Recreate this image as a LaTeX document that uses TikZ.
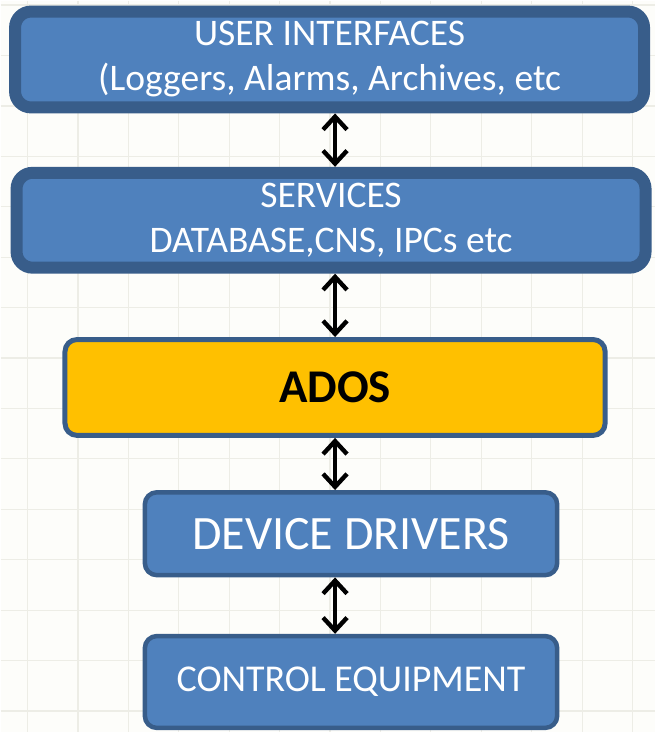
\documentclass[tikz,border=0pt]{standalone}
\usepackage{fontspec}
\setmainfont{Carlito}
\usetikzlibrary{arrows.meta, positioning}
\definecolor{boxblue}{HTML}{4F81BD}
\definecolor{edgeblue}{HTML}{385D8A}
\definecolor{adosgold}{HTML}{FFC000}
\definecolor{paper}{HTML}{FDFDFA}
\definecolor{gridline}{HTML}{EDEDE6}
\tikzset{x=0.5pt, y=-0.5pt, % one unit is one pixel of the reference
layer/.style={ % Sets the properties for each blue box
draw=edgeblue, fill=boxblue,
text=white, align=center, inner sep=0pt},
wide/.style={layer, line width=6pt, rounded corners=8pt,
minimum width=315pt, minimum height=48pt, font=\fontsize{18.8}{22.5}\selectfont},
narrow/.style={layer, line width=2.25pt, rounded corners=6pt,
minimum width=206.5pt},
updown/.style={ % black double arrows between the layers
{Straight Barb[length=6.5pt, width=12pt, line width=2.2pt]}-{Straight Barb[length=6.5pt, width=12pt, line width=2.2pt]},
line width=2.2pt, black}}

\begin{document}
\begin{tikzpicture}
    
    \fill[paper] (0,0) rectangle (655,733);
    \foreach \x in {27,77.5,...,655} \draw[gridline, line width=0.6pt] (\x,0) -- (\x,733);
    \foreach \y in {4.5,55,...,733} \draw[gridline, line width=0.6pt] (0,\y) -- (655,\y);
    \useasboundingbox (0,0) rectangle (655,733);
    
    \node[wide] (ui) at (329.5,59) {USER INTERFACES\\(Loggers, Alarms, Archives, etc};
    \node[wide, minimum height=47.5pt] (svc) at (331,220) {SERVICES\\DATABASE,CNS, IPCs etc};
    \node[layer, fill=adosgold, text=black, line width=2.5pt, rounded corners=6pt,
        minimum width=270.5pt, minimum height=48pt,
        font=\fontsize{23.5}{26}\selectfont\bfseries] (ados) at (335,387.5) {ADOS};
    \node[narrow, minimum height=41.5pt, font=\fontsize{24}{28}\selectfont] (drv) at (351,534) {DEVICE DRIVERS};
    \node[narrow, minimum height=46pt, font=\fontsize{19}{22}\selectfont] (ctl) at (351,682.5) {CONTROL EQUIPMENT};
    
    \draw[updown] (ui.south -| ados.center) -- (svc.north -| ados.center);
    \draw[updown] (svc.south -| ados.center) -- (ados.north);
    \draw[updown] (ados.south) -- (drv.north -| ados.center);
    \draw[updown] (drv.south -| ados.center) -- (ctl.north -| ados.center);
    
\end{tikzpicture}
\end{document}
